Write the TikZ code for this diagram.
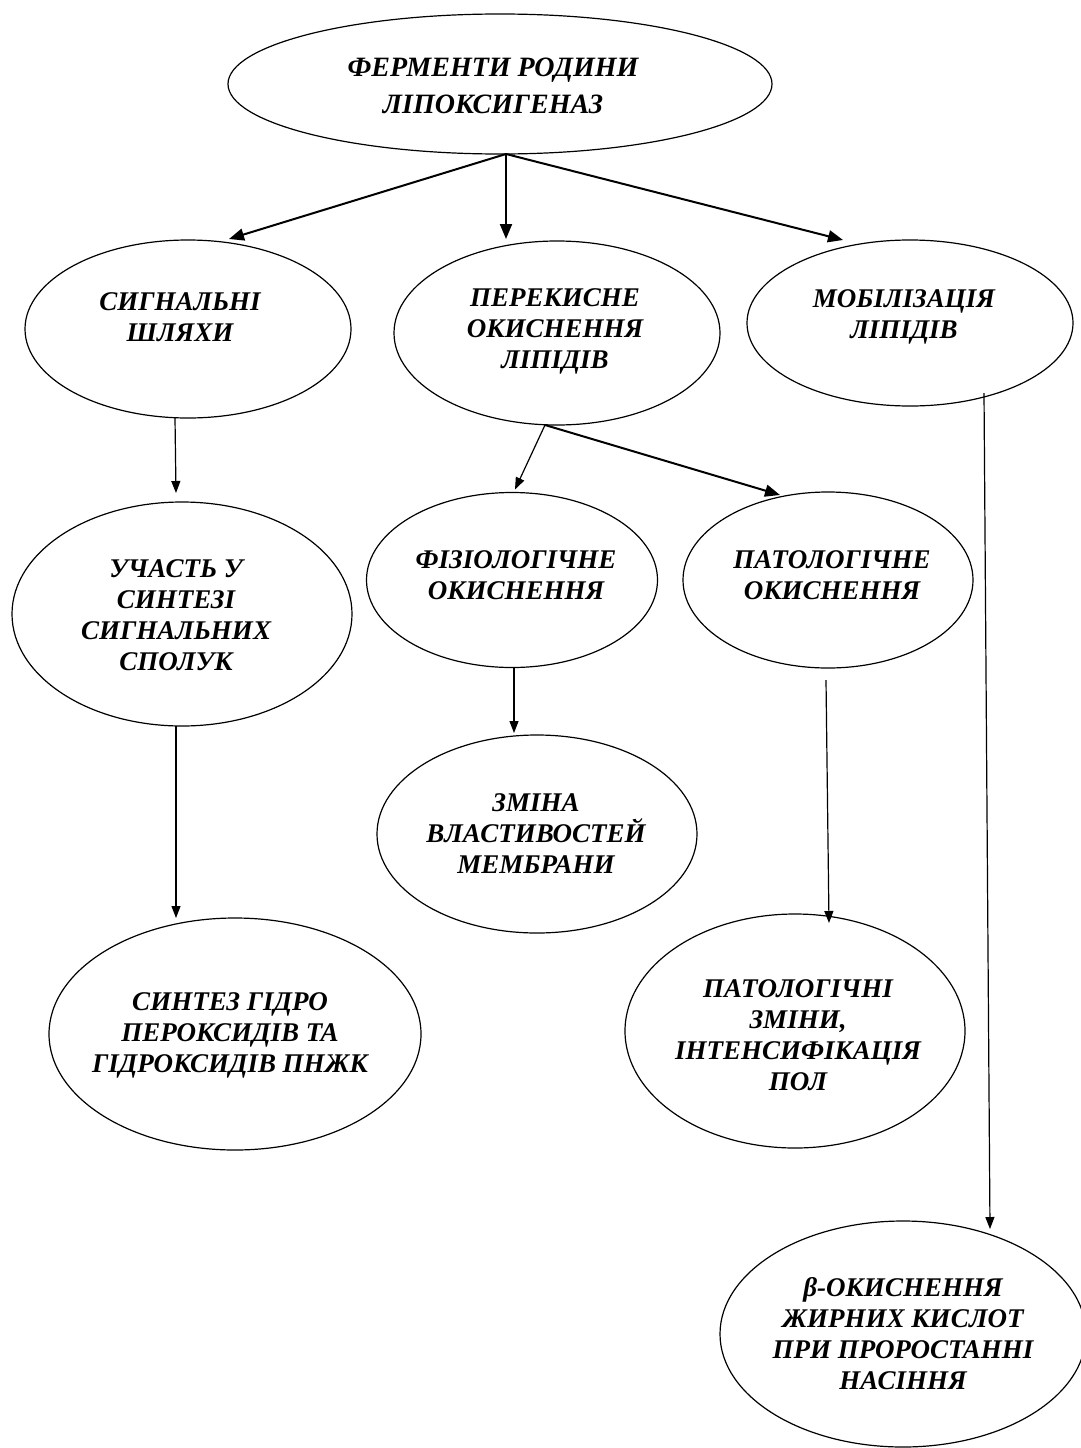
\documentclass[tikz,border=0pt]{standalone}
\usepackage{fontspec}
\setmainfont{Liberation Serif}
\usetikzlibrary{arrows.meta,shapes.geometric}
\begin{document}
\begin{tikzpicture}[x=1pt,y=-1pt,
  ell/.style={draw, ellipse, line width=1.2pt, inner sep=0pt, outer sep=0pt},
  lbl/.style={font=\fontsize{27}{31}\selectfont\bfseries\itshape, align=center, inner sep=0pt},
  toplbl/.style={font=\fontsize{28}{37}\selectfont\bfseries\itshape, align=center, inner sep=0pt},
  bigarr/.style={line width=2pt, -{Triangle[length=15pt,width=12pt]}},
  smallarr/.style={line width=1.2pt, -{Triangle[length=12pt,width=9pt]}}]
\useasboundingbox (0,0) rectangle (1081,1448);

% ellipses
\node[ell, minimum width=544pt, minimum height=140pt] (top) at (500,84) {};
\node[ell, minimum width=326pt, minimum height=178pt] (sig) at (188,329) {};
\node[ell, minimum width=326pt, minimum height=184pt] (per) at (557,333) {};
\node[ell, minimum width=326pt, minimum height=166pt] (mob) at (910,323) {};
\node[ell, minimum width=340pt, minimum height=224pt] (uch) at (182,614) {};
\node[ell, minimum width=291pt, minimum height=175pt] (fiz) at (512,580) {};
\node[ell, minimum width=290pt, minimum height=176pt] (pat) at (828,580) {};
\node[ell, minimum width=320pt, minimum height=198pt] (zmi) at (537,834) {};
\node[ell, minimum width=372pt, minimum height=232pt] (sin) at (235,1034) {};
\node[ell, minimum width=340pt, minimum height=234pt] (pzm) at (795,1031) {};
\node[ell, minimum width=366pt, minimum height=226pt] (bet) at (903,1334) {};

% labels
\node[toplbl] (topT) at (493,86) {ФЕРМЕНТИ РОДИНИ\\ЛІПОКСИГЕНАЗ};
\node[lbl] (sigT) at (180,317) {СИГНАЛЬНІ\\ШЛЯХИ};
\node[lbl] (perT) at (555,331) {ПЕРЕКИСНЕ\\ОКИСНЕННЯ\\ЛІПІДІВ};
\node[lbl] (mobT) at (904,317) {МОБІЛІЗАЦІЯ\\ЛІПІДІВ};
\node[lbl] (uchT) at (176,615) {УЧАСТЬ У\\СИНТЕЗІ\\СИГНАЛЬНИХ\\СПОЛУК};
\node[lbl] (fizT) at (516,575) {ФІЗІОЛОГІЧНЕ\\ОКИСНЕННЯ};
\node[lbl] (patT) at (832,575) {ПАТОЛОГІЧНЕ\\ОКИСНЕННЯ};
\node[lbl] (zmiT) at (536,834) {ЗМІНА\\ВЛАСТИВОСТЕЙ\\МЕМБРАНИ};
\node[lbl] (sinT) at (230,1035) {СИНТЕЗ ГІДРО\\ПЕРОКСИДІВ ТА\\ГІДРОКСИДІВ ПНЖК};
\node[lbl] (pzmT) at (798,1035) {ПАТОЛОГІЧНІ\\ЗМІНИ,\\ІНТЕНСИФІКАЦІЯ\\ПОЛ};
\node[lbl] (betT) at (903,1334) {β-ОКИСНЕННЯ\\ЖИРНИХ КИСЛОТ\\ПРИ ПРОРОСТАННІ\\НАСІННЯ};

% connectors
\draw[bigarr] ([xshift=6pt]top.south) -- ([xshift=41pt,yshift=1pt]sig.north);
\draw[bigarr] ([xshift=6pt]top.south) -- ([xshift=-51pt,yshift=2pt]per.north);
\draw[bigarr] ([xshift=6pt]top.south) -- ([xshift=-67pt]mob.north);
\draw[smallarr] ([xshift=-13pt]sig.south) -- ([xshift=-6pt,yshift=9pt]uch.north);
\draw[smallarr] ([xshift=-12pt]per.south) -- ([xshift=3pt,yshift=3pt]fiz.north);
\draw[bigarr] ([xshift=-12pt]per.south) -- ([xshift=-48pt,yshift=-3pt]pat.north);
\draw[smallarr] ([xshift=2pt]fiz.south) -- ([xshift=-23pt,yshift=2pt]zmi.north);
\draw[smallarr] ([xshift=-6pt]uch.south) -- ([xshift=-59pt]sin.north);
\draw[smallarr] ([xshift=-2pt,yshift=-12pt]pat.south) -- ([xshift=34pt,yshift=-9pt]pzm.north);
\draw[smallarr] ([xshift=74pt,yshift=13pt]mob.south) -- ([xshift=87pt,yshift=-8pt]bet.north);
\end{tikzpicture}
\end{document}
